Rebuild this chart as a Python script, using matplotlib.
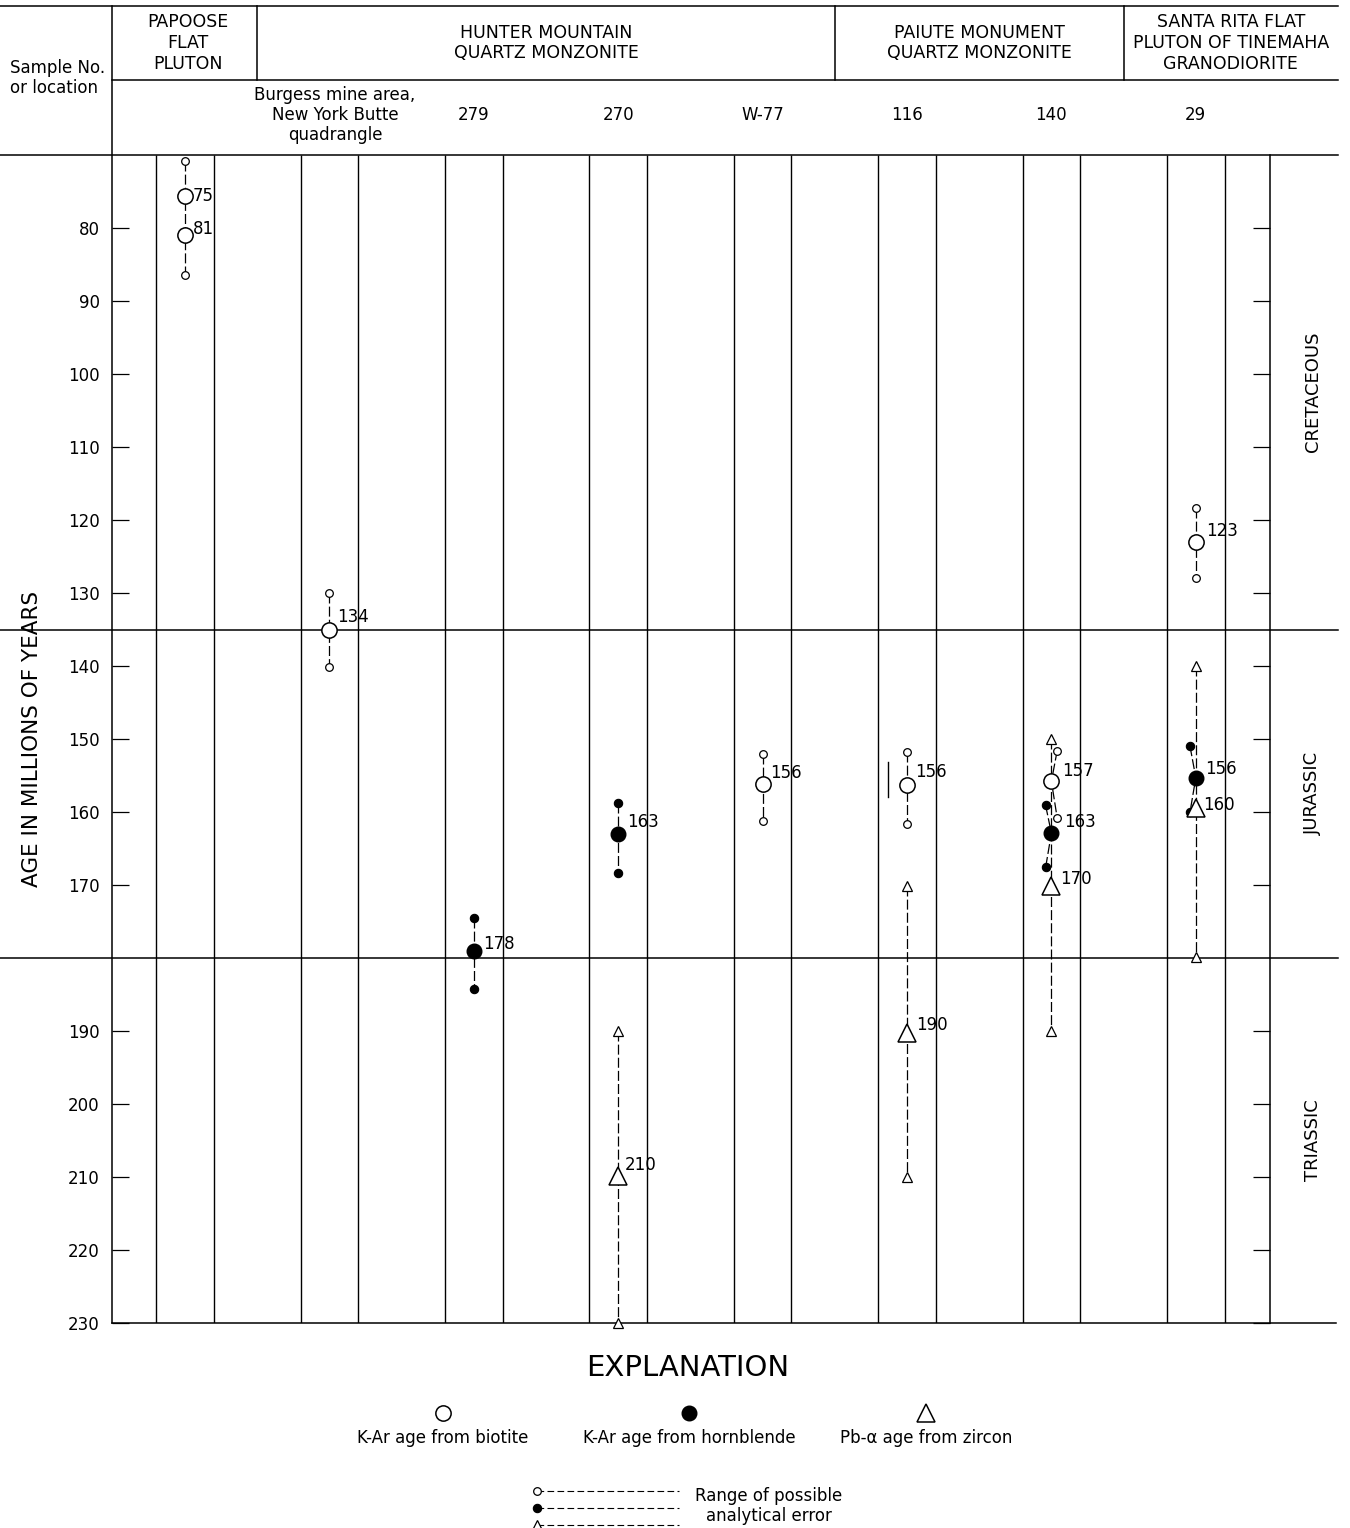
import matplotlib
matplotlib.use('Agg')
import matplotlib.pyplot as plt

plt.rcParams['font.family'] = ['DejaVu Sans']

# --- data --------------------------------------------------------------
group_names = ['PAPOOSE\nFLAT\nPLUTON', 'HUNTER MOUNTAIN\nQUARTZ MONZONITE',
               'PAIUTE MONUMENT\nQUARTZ MONZONITE',
               'SANTA RITA FLAT\nPLUTON OF TINEMAHA\nGRANODIORITE']
sample_names = ['', 'Burgess mine area,\nNew York Butte\nquadrangle', '279', '270',
                'W-77', '116', '140', '29']

# K-Ar age from biotite (column index, plotted age, printed value)
bio_col = [0, 0, 1, 4, 5, 6, 7]
bio_age = [75.6, 80.9, 135.0, 156.1, 156.3, 155.8, 123.0]
bio_lab = ['75', '81', '134', '156', '156', '157', '123']
bio_rng_col = [0, 1, 4, 5, 6, 7]
bio_rng_lo = [70.8, 130.0, 152.0, 151.8, 151.6, 118.3]
bio_rng_hi = [86.4, 140.1, 161.3, 161.6, 160.8, 128.0]

# K-Ar age from hornblende
hbl_col = [2, 3, 6, 7]
hbl_age = [179.0, 163.0, 162.9, 155.3]
hbl_lab = ['178', '163', '163', '156']
hbl_rng_col = [2, 3, 6, 7]
hbl_rng_lo = [174.5, 158.8, 159.1, 151.0]
hbl_rng_hi = [184.2, 168.3, 167.6, 160.0]

# Pb-alpha age from zircon
zir_col = [3, 5, 6, 7]
zir_age = [209.9, 190.3, 170.1, 159.5]
zir_lab = ['210', '190', '170', '160']
zir_rng_col = [3, 5, 6, 7]
zir_rng_lo = [190.0, 170.1, 150.0, 140.0]
zir_rng_hi = [230.0, 210.0, 190.0, 179.8]

periods = ['CRETACEOUS', 'JURASSIC', 'TRIASSIC']
period_bounds = [70, 135, 180, 230]
age_ticks = [80, 90, 100, 110, 120, 130, 140, 150, 160, 170, 190, 200, 210, 220, 230]

# --- layout (pixels of the 1350x1528 picture) --------------------------
W, H = 1350, 1528
AX_L, AX_R, AX_T, AX_B = 112, 1270, 155, 1323
X0, DX = 185.0, 144.4          # centre of column 0, column spacing


def fx(px):                     # picture x -> data x
    return (px - X0) / DX


def fy(py):                     # picture y -> axes fraction
    return (AX_B - py) / (AX_B - AX_T)


fig = plt.figure(figsize=(W / 100, H / 100), dpi=100)
ax = fig.add_axes([AX_L / W, (H - AX_B) / H, (AX_R - AX_L) / W, (AX_B - AX_T) / H])
ax.set_xlim(fx(AX_L), fx(AX_R))
ax.set_ylim(230, 70)
for s in ax.spines.values():
    s.set_visible(False)
ax.set_xticks([])
ax.set_yticks(age_ticks)
ax.tick_params(axis='y', direction='in', length=12.5, width=0.9, left=True, right=True,
               labelleft=True, labelright=False, labelsize=12, pad=9)

hdr = ax.get_xaxis_transform()
kw = dict(color='black', lw=1.1, clip_on=False)
xl, xr, xe, x_start = fx(AX_L), fx(AX_R), fx(1338), fx(0)

# frame and header rules
ax.plot([xl, xl], [0, fy(6)], transform=hdr, **kw)
ax.plot([xr, xr], [0, 1], transform=hdr, **kw)
ax.plot([x_start, xe], [fy(6), fy(6)], transform=hdr, **kw)
ax.plot([xl, xe], [fy(80), fy(80)], transform=hdr, **kw)
ax.plot([x_start, xe], [1, 1], transform=hdr, **kw)
ax.plot([xl, fx(1336)], [0, 0], transform=hdr, **kw)
for d in [0.5, 4.5, 6.5]:
    ax.plot([d, d], [fy(80), fy(6)], transform=hdr, **kw)

# period boundaries
for b in period_bounds[1:-1]:
    ax.plot([x_start, xe], [b, b], **kw)

# column guide lines
for c in range(len(sample_names)):
    ax.vlines([c - 0.2, c + 0.2], 70, 230, color='black', lw=1.0)

# header text
ax.text(fx(10), fy(78), 'Sample No.\nor location', transform=hdr, ha='left', va='center',
        fontsize=12, linespacing=1.15)
group_x = [0.02, 2.5, 5.5, (6.5 + xe) / 2]
for gx, name in zip(group_x, group_names):
    ax.text(gx, fy(43), name, transform=hdr, ha='center', va='center', fontsize=12.5,
            linespacing=1.2)
for c, name in enumerate(sample_names):
    x = fx(335) if c == 1 else c
    ax.text(x, fy(115), name, transform=hdr, ha='center', va='center', fontsize=12,
            linespacing=1.15)

# axis label and periods
ax.text((32 - AX_L) / (AX_R - AX_L), 0.5, 'AGE IN MILLIONS OF YEARS', transform=ax.transAxes,
        rotation=90, ha='center', va='center', fontsize=15.5)
yt = ax.get_yaxis_transform()
for name, a, b in zip(periods, period_bounds[:-1], period_bounds[1:]):
    ax.text((1313 - AX_L) / (AX_R - AX_L), (a + b) / 2, name, transform=yt, rotation=90,
            ha='center', va='center', fontsize=13)

# stray short stroke beside sample 116
ax.plot([5 - 0.13, 5 - 0.13], [153.1, 157.9], color='black', lw=1.0)

big_open = dict(marker='o', ms=11, mfc='white', mec='black', mew=1.1)
big_fill = dict(marker='o', ms=10.5, mfc='black', mec='black', mew=1.0)
big_tri = dict(marker='^', ms=12.5, mfc='white', mec='black', mew=1.1)
small_open = dict(marker='o', ms=5.5, mfc='white', mec='black', mew=0.9)
small_fill = dict(marker='o', ms=6, mfc='black', mec='black', mew=0.8)
small_tri = dict(marker='^', ms=7.5, mfc='white', mec='black', mew=0.9)
dash = (0, (8, 2.5))


def draw_mineral(cols, ages, labels, rcols, lo, hi, shift, big, small, offs):
    for c, l, h in zip(rcols, lo, hi):
        sx = c + shift.get(c, 0)
        centre = [a for cc, a in zip(cols, ages) if cc == c]
        ax.plot([sx] + [c] * len(centre) + [sx], [l] + centre + [h], color='black', lw=0.9,
                ls=dash, zorder=2)
        ax.plot([sx, sx], [l, h], ls='none', zorder=3, clip_on=False, **small)
    ax.plot(cols, ages, ls='none', zorder=4, clip_on=False, **big)
    for c, a, t, (ox, oy) in zip(cols, ages, labels, offs):
        ax.annotate(t, (c, a), xytext=(ox, -oy), textcoords='offset pixels', ha='left',
                    va='center', fontsize=12, zorder=5)


draw_mineral(bio_col, bio_age, bio_lab, bio_rng_col, bio_rng_lo, bio_rng_hi, {6: 0.04},
             big_open, small_open,
             [(8, 0), (8, -6), (8, -13), (8, -11), (8, -13), (11, -10), (10, -11)])
draw_mineral(hbl_col, hbl_age, hbl_lab, hbl_rng_col, hbl_rng_lo, hbl_rng_hi,
             {6: -0.04, 7: -0.04}, big_fill, small_fill,
             [(9, -7), (9, -12), (13, -11), (9, -9)])
draw_mineral(zir_col, zir_age, zir_lab, zir_rng_col, zir_rng_lo, zir_rng_hi, {},
             big_tri, small_tri,
             [(7, -11), (9, -8), (9, -7), (7, -3)])

# --- explanation --------------------------------------------------------
lax = fig.add_axes([0, 0, 1, 1])
lax.set_xlim(0, W)
lax.set_ylim(H, 0)
lax.axis('off')
lax.patch.set_alpha(0)

lax.text(688, 1368, 'EXPLANATION', ha='center', va='center', fontsize=21)
legend_items = [('K-Ar age from biotite', big_open, 443),
                ('K-Ar age from hornblende', big_fill, 689),
                ('Pb-α age from zircon', big_tri, 926)]
for text, style, x in legend_items:
    lax.plot([x], [1413], ls='none', **style)
    lax.text(x, 1438, text, ha='center', va='center', fontsize=12)

for y, style in zip([1491, 1508, 1525], [small_open, small_fill, small_tri]):
    lax.plot([537, 679], [y, y], color='black', lw=0.8, ls=(0, (6, 3)), clip_on=False)
    lax.plot([537], [y], ls='none', clip_on=False, **style)
lax.text(769, 1506, 'Range of possible\nanalytical error', ha='center', va='center',
         fontsize=12, linespacing=1.15)

fig.savefig('out.png', dpi=100)
